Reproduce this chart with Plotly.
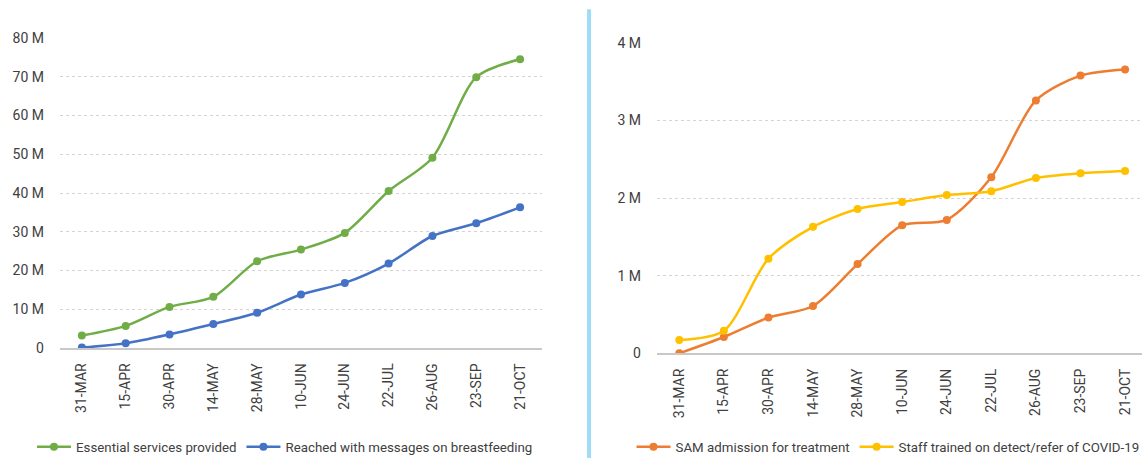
import plotly.graph_objects as go

# Reporting dates (shared by both panels)
dates = ["31-MAR", "15-APR", "30-APR", "14-MAY", "28-MAY", "10-JUN",
         "24-JUN", "22-JUL", "26-AUG", "23-SEP", "21-OCT"]

# Left panel (millions of people)
essential_services = [3.2, 5.7, 10.6, 13.2, 22.4, 25.4, 29.7, 40.5, 49.1, 69.9, 74.5]
breastfeeding_msgs = [0.1, 1.2, 3.5, 6.2, 9.1, 13.8, 16.8, 21.8, 28.9, 32.2, 36.3]

# Right panel (millions)
sam_admissions = [0.0, 0.21, 0.46, 0.61, 1.15, 1.65, 1.72, 2.27, 3.26, 3.58, 3.66]
staff_trained = [0.17, 0.29, 1.22, 1.63, 1.86, 1.95, 2.04, 2.09, 2.26, 2.32, 2.35]

left_ticks = [0, 10, 20, 30, 40, 50, 60, 70, 80]
left_ticktext = ["0", "10 M", "20 M", "30 M", "40 M", "50 M", "60 M", "70 M", "80 M"]
right_ticks = [0, 1, 2, 3, 4]
right_ticktext = ["0", "1 M", "2 M", "3 M", "4 M"]

FONT = "Roboto, Arial, sans-serif"
TEXT = "#404040"
GREEN, BLUE, ORANGE, YELLOW = "#70ad47", "#4472c4", "#ed7d31", "#ffc000"

fig = go.Figure()


def series(y, name, color, xa, ya, legend):
    return go.Scatter(
        x=dates, y=y, name=name, xaxis=xa, yaxis=ya, legend=legend,
        mode="lines+markers",
        line=dict(color=color, width=2.5, shape="spline", smoothing=0.8),
        marker=dict(color=color, size=8),
    )


fig.add_trace(series(essential_services, "Essential services provided", GREEN, "x", "y", "legend"))
fig.add_trace(series(breastfeeding_msgs, "Reached with messages on breastfeeding", BLUE, "x", "y", "legend"))
fig.add_trace(series(sam_admissions, "SAM admission for treatment", ORANGE, "x2", "y2", "legend2"))
fig.add_trace(series(staff_trained, "Staff trained on detect/refer of COVID-19", YELLOW, "x2", "y2", "legend2"))

xcommon = dict(
    type="category", categoryorder="array", categoryarray=dates,
    tickangle=-90, showgrid=False, zeroline=False,
    showline=True, linecolor="#c8c8c8", linewidth=1.5,
    ticks="", ticklabelstandoff=8,
    tickfont=dict(family=FONT, size=14, color=TEXT),
)
ycommon = dict(
    showgrid=True, gridcolor="#d4d4d4", griddash="dot", gridwidth=1,
    zeroline=False, showline=False, ticks="", ticklabelstandoff=15,
    tickfont=dict(family=FONT, size=14, color=TEXT),
)
legcommon = dict(orientation="h", xanchor="left", yanchor="middle", y=0.024,
                 font=dict(family=FONT, size=13.3, color=TEXT), itemwidth=34,
                 bgcolor="rgba(0,0,0,0)")

fig.update_layout(
    width=1142, height=458,
    margin=dict(l=0, r=0, t=0, b=0, autoexpand=False),
    paper_bgcolor="white", plot_bgcolor="white",
    font=dict(family=FONT, size=13, color=TEXT),
    xaxis=dict(domain=[0.0525, 0.4746], range=[-0.5, 10.5], anchor="y", **xcommon),
    yaxis=dict(domain=[0.2402, 0.917], range=[0, 80], anchor="x",
               tickvals=left_ticks, ticktext=left_ticktext, **ycommon),
    xaxis2=dict(domain=[0.5753, 1.0], range=[-0.5, 10.38], anchor="y2", **xcommon),
    yaxis2=dict(domain=[0.2286, 0.9061], range=[0, 4], anchor="x2",
                tickvals=right_ticks, ticktext=right_ticktext, **ycommon),
    legend=dict(x=0.028, **legcommon),
    legend2=dict(x=0.553, **legcommon),
    shapes=[dict(type="line", xref="paper", yref="paper",
                 x0=0.5158, x1=0.5158, y0=0, y1=0.98,
                 line=dict(color="#a0dcf5", width=4))],
)

fig.write_html("out.html")
